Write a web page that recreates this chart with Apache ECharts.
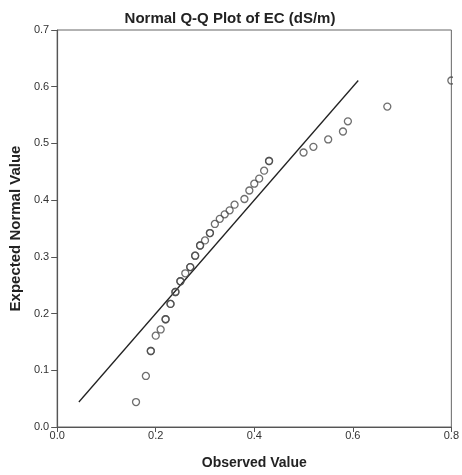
<!DOCTYPE html>
<html>
<head>
<meta charset="utf-8">
<script src="https://cdn.jsdelivr.net/npm/echarts@6/dist/echarts.min.js"></script>
<style>
  html, body { margin: 0; padding: 0; background: #fff; }
  #chart { width: 462px; height: 475px; }
</style>
</head>
<body>
<div id="chart"></div>
<script>
// Observed EC values (dS/m), one entry per distinct value
const observed = [0.16, 0.18, 0.19, 0.20, 0.21, 0.22, 0.23, 0.24, 0.25, 0.26, 0.27,
                  0.28, 0.29, 0.30, 0.31, 0.32, 0.33, 0.34, 0.35, 0.36, 0.38, 0.39,
                  0.40, 0.41, 0.42, 0.43, 0.50, 0.52, 0.55, 0.58, 0.59, 0.67, 0.80];
// Expected normal quantile for each observed value
const expected = [0.044, 0.090, 0.134, 0.161, 0.172, 0.190, 0.217, 0.238, 0.257, 0.271, 0.282,
                  0.302, 0.320, 0.329, 0.342, 0.358, 0.367, 0.375, 0.382, 0.392, 0.402, 0.417,
                  0.429, 0.438, 0.452, 0.469, 0.484, 0.494, 0.507, 0.521, 0.539, 0.565, 0.611];
// Number of cases sharing each value (tied cases are drawn on top of each other)
const ties = [1, 1, 2, 1, 1, 2, 2, 2, 2, 1, 2,
              2, 2, 1, 2, 1, 1, 1, 1, 1, 1, 1,
              1, 1, 1, 2, 1, 1, 1, 1, 1, 1, 1];
const xTicks = [0.0, 0.2, 0.4, 0.6, 0.8];
const yTicks = [0.0, 0.1, 0.2, 0.3, 0.4, 0.5, 0.6, 0.7];

const points = [];
observed.forEach((v, i) => {
  for (let k = 0; k < ties[i]; k++) points.push([v, expected[i]]);
});
const lo = Math.min(...expected), hi = Math.max(...expected);
const refLine = [[lo, lo], [hi, hi]];

const FONT = 'Liberation Sans, Arial, sans-serif';
const chart = echarts.init(document.getElementById('chart'), null, { renderer: 'canvas' });
chart.setOption({
  animation: false,
  backgroundColor: '#fff',
  title: {
    text: 'Normal Q-Q Plot of EC (dS/m)',
    left: 225, top: 6, textAlign: 'center',
    textStyle: { fontFamily: FONT, fontSize: 15, fontWeight: 'bold', color: '#222' }
  },
  grid: { left: 54, right: 10, top: 30, bottom: 48, show: true, borderColor: '#666', borderWidth: 1 },
  xAxis: {
    type: 'value', min: xTicks[0], max: xTicks[xTicks.length - 1], interval: 0.2,
    name: 'Observed Value', nameLocation: 'middle', nameGap: 29,
    nameTextStyle: { fontFamily: FONT, fontSize: 14, fontWeight: 'bold', color: '#222' },
    axisLine: { lineStyle: { color: '#555', width: 1.2 } },
    axisTick: { length: 5, lineStyle: { color: '#555' } },
    axisLabel: { margin: 3, fontFamily: FONT, fontSize: 11, color: '#333',
                 formatter: v => v.toFixed(1) },
    splitLine: { show: false }
  },
  yAxis: {
    type: 'value', min: yTicks[0], max: yTicks[yTicks.length - 1], interval: 0.1,
    name: 'Expected Normal Value', nameLocation: 'middle', nameGap: 28, nameRotate: 90,
    nameTextStyle: { fontFamily: FONT, fontSize: 15, fontWeight: 'bold', color: '#222' },
    axisLine: { lineStyle: { color: '#555', width: 1.2 } },
    axisTick: { length: 6, lineStyle: { color: '#555' } },
    axisLabel: { margin: 8, fontFamily: FONT, fontSize: 11, color: '#333',
                 formatter: v => v.toFixed(1) },
    splitLine: { show: false }
  },
  series: [
    {
      type: 'line', data: refLine, symbol: 'none', silent: true,
      lineStyle: { color: '#222', width: 1.3 }, z: 2
    },
    {
      type: 'scatter', data: points, symbol: 'circle', symbolSize: 7, clip: false,
      itemStyle: { color: 'rgba(255,255,255,0)', borderColor: '#4a4a4a', borderWidth: 1.3 }, z: 3
    }
  ],
  graphic: [
    // mask the strip right of the plot frame so marks on the edge are cut off there
    { type: 'rect', shape: { x: 453, y: 28, width: 9, height: 396 },
      style: { fill: '#fff' }, z: 100, silent: true }
  ]
});
</script>
</body>
</html>
